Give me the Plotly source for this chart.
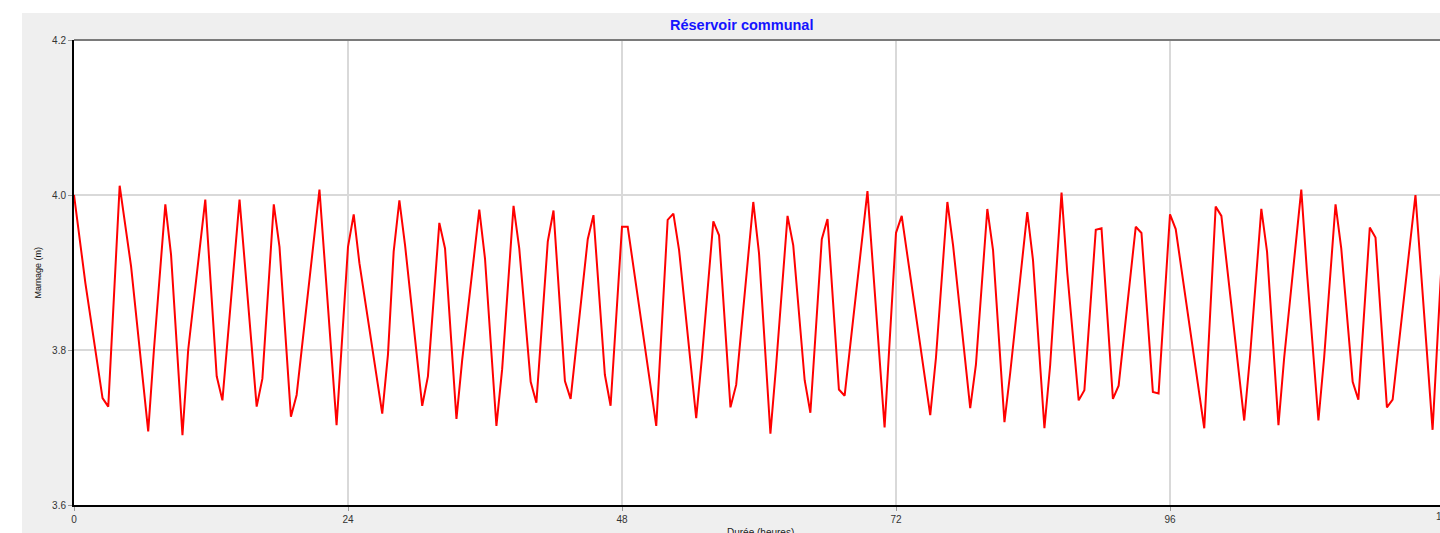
import plotly.graph_objects as go

# Time (hours) of each vertex of the tank level curve
hours = [0.0, 1.0, 2.5, 3.0, 4.0, 4.5, 5.0, 6.5, 7.0, 8.0, 8.5, 9.5, 10.0, 11.5, 12.5, 13.0,
         14.5, 16.0, 16.5, 17.5, 18.0, 19.0, 19.5, 21.5, 23.0, 24.0, 24.5, 25.0, 27.0, 27.5,
         28.0, 28.5, 29.0, 30.5, 31.0, 32.0, 32.5, 33.5, 34.0, 35.5, 36.0, 37.0, 37.5, 38.5,
         39.0, 40.0, 40.5, 41.5, 42.0, 43.0, 43.5, 45.0, 45.5, 46.5, 47.0, 48.0, 48.5, 51.0,
         52.0, 52.5, 53.0, 54.5, 55.0, 56.0, 56.5, 57.5, 58.0, 59.5, 60.0, 61.0, 61.5, 62.5,
         63.0, 64.0, 64.5, 65.5, 66.0, 67.0, 67.5, 69.5, 71.0, 72.0, 72.5, 75.0, 75.5, 76.5,
         77.0, 78.5, 79.0, 80.0, 80.5, 81.5, 82.0, 83.5, 84.0, 85.0, 85.5, 86.5, 87.0, 88.0,
         88.5, 89.5, 90.0, 91.0, 91.5, 93.0, 93.5, 94.5, 95.0, 96.0, 96.5, 99.0, 100.0, 100.5,
         102.5, 103.0, 104.0, 104.5, 105.5, 106.0, 107.5, 108.0, 109.0, 109.5, 110.5, 111.0,
         112.0, 112.5, 113.5, 114.0, 115.0, 115.5, 117.5, 119.0, 120.0]

# Water level in the tank (m)
levels = [4.000, 3.886, 3.738, 3.727, 4.012, 3.961, 3.908, 3.695, 3.800, 3.988, 3.923, 3.690,
          3.800, 3.994, 3.766, 3.735, 3.994, 3.727, 3.763, 3.988, 3.933, 3.714, 3.742, 4.007,
          3.703, 3.933, 3.975, 3.912, 3.718, 3.794, 3.927, 3.993, 3.935, 3.728, 3.766, 3.964,
          3.931, 3.711, 3.787, 3.981, 3.918, 3.702, 3.775, 3.986, 3.931, 3.759, 3.732, 3.940,
          3.980, 3.760, 3.737, 3.943, 3.974, 3.768, 3.728, 3.959, 3.959, 3.702, 3.968, 3.976,
          3.929, 3.712, 3.790, 3.966, 3.948, 3.726, 3.755, 3.991, 3.925, 3.692, 3.780, 3.973,
          3.935, 3.761, 3.719, 3.943, 3.969, 3.749, 3.741, 4.005, 3.700, 3.951, 3.973, 3.716,
          3.790, 3.991, 3.935, 3.725, 3.781, 3.982, 3.929, 3.707, 3.770, 3.978, 3.916, 3.699,
          3.780, 4.003, 3.900, 3.735, 3.748, 3.955, 3.957, 3.737, 3.754, 3.959, 3.951, 3.746,
          3.744, 3.975, 3.956, 3.699, 3.985, 3.973, 3.709, 3.790, 3.982, 3.927, 3.703, 3.790,
          4.007, 3.900, 3.709, 3.790, 3.988, 3.931, 3.759, 3.736, 3.958, 3.945, 3.726, 3.736,
          4.000, 3.697, 3.970]

x_ticks = [0, 24, 48, 72, 96, 120]
y_ticks = [3.6, 3.8, 4.0, 4.2]

title_text = "Réservoir communal"
x_title = "Durée (heures)"
y_title = "Marnage (m)"

# page margin removed: figure starts at the window's top-left corner
W, H = 1440, 553
ML, MT, MR = 74, 40, 0
PW = W - ML - MR          # 1366 px
PH = 465
MB = H - MT - PH
HOURS_PER_PX = 24 / 274.0
x_max = PW * HOURS_PER_PX  # visible part of the 0-120 h axis

fig = go.Figure()
fig.add_trace(go.Scatter(x=hours, y=levels, mode="lines",
                         line=dict(color="#ff0000", width=2), showlegend=False,
                         hoverinfo="x+y"))

grid = "#d9d9d9"
fig.update_xaxes(range=[0, x_max], tickvals=x_ticks[:-1], ticktext=[str(v) for v in x_ticks[:-1]],
                 showgrid=True, gridcolor=grid, gridwidth=1.5, zeroline=False,
                 showline=True, linecolor="#000000", linewidth=2,
                 ticks="outside", ticklen=4, tickcolor="#999999", tickwidth=1,
                 tickfont=dict(family="Liberation Sans", size=10, color="#333333"))
fig.update_yaxes(range=[3.6, 4.2], tickvals=y_ticks, ticktext=[f"{v:.1f}" for v in y_ticks],
                 showgrid=True, gridcolor=grid, gridwidth=1.5, zeroline=False,
                 showline=True, linecolor="#000000", linewidth=2,
                 ticks="outside", ticklen=4, tickcolor="#999999", tickwidth=1,
                 tickfont=dict(family="Liberation Sans", size=10, color="#333333"))

px = lambda fx: (fx - ML) / PW
py = lambda fy: 1 - (fy - MT) / PH
shapes = [
    dict(type="rect", xref="paper", yref="paper", x0=px(22), x1=px(W + 20), y0=py(H + 20), y1=py(13),
         fillcolor="#efefef", line=dict(width=0), layer="below"),
    dict(type="rect", xref="paper", yref="paper", x0=0, x1=1.05, y0=0, y1=1,
         fillcolor="#ffffff", line=dict(width=0), layer="below"),
    dict(type="line", xref="paper", yref="paper", x0=0, x1=1.05, y0=1, y1=1,
         line=dict(color="#7a7a7a", width=2), layer="above"),
]

annotations = [
    dict(text=f"<b>{title_text}</b>", xref="paper", yref="paper", x=px(741), y=1,
         xanchor="center", yanchor="middle", yshift=15, showarrow=False,
         font=dict(family="Liberation Sans", size=14.5, color="#1414ff")),
    dict(text=y_title, xref="paper", yref="paper", x=0, y=0.5, xshift=-37, textangle=-90,
         xanchor="center", yanchor="middle", showarrow=False,
         font=dict(family="Liberation Sans", size=9, color="#111111")),
    dict(text=x_title, xref="paper", yref="paper", x=px(761), y=0, yanchor="top",
         xanchor="center", yshift=-20, showarrow=False,
         font=dict(family="Liberation Sans", size=10, color="#222222")),
    # last tick label (120 h), partly beyond the window edge
    dict(text=str(x_ticks[-1]), xref="paper", yref="paper", x=x_ticks[-1] / x_max, y=0,
         xanchor="center", yanchor="top", yshift=-4, showarrow=False,
         font=dict(family="Liberation Sans", size=10, color="#333333")),
]

fig.update_layout(width=W, height=H, margin=dict(l=ML, r=MR, t=MT, b=MB, pad=0),
                  paper_bgcolor="#ffffff", plot_bgcolor="#ffffff",
                  shapes=shapes, annotations=annotations)

fig.write_html("out.html",
               config=dict(displayModeBar=False),
               post_script="document.documentElement.style.overflow='hidden';"
                           "document.body.style.overflow='hidden';"
                           "document.body.style.margin='0';")
